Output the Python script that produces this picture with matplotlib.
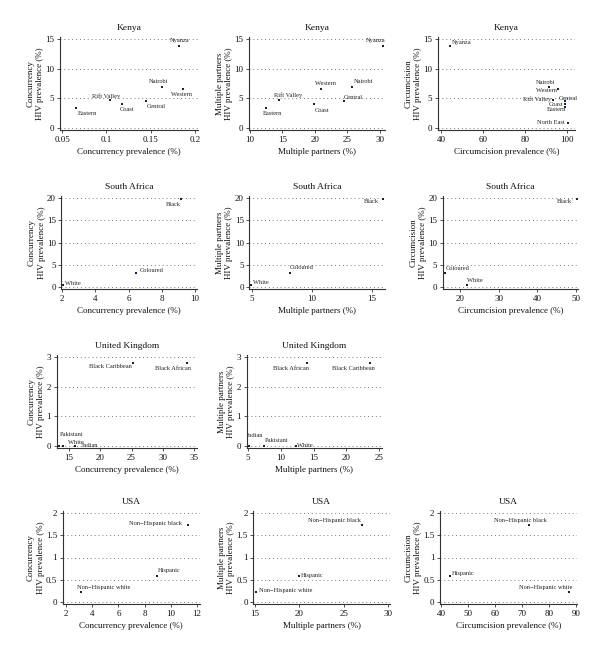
import matplotlib.pyplot as plt
from matplotlib.ticker import FuncFormatter

plt.rcParams['font.family'] = ['Liberation Serif', 'DejaVu Serif']

# ---- data ----
kenya_regions = ['Eastern', 'Rift Valley', 'Coast', 'Central', 'Nairobi', 'Western', 'Nyanza']
kenya_hiv = [3.4, 4.7, 4.1, 4.6, 6.9, 6.5, 13.8]
kenya_concurrency = [0.066, 0.104, 0.118, 0.145, 0.163, 0.187, 0.182]
kenya_multiple = [12.4, 14.5, 19.9, 24.4, 25.7, 20.9, 30.4]

kenya_circ_regions = ['Nyanza', 'Nairobi', 'Western', 'Rift Valley', 'Central', 'Coast', 'Eastern', 'North East']
kenya_circ_hiv = [13.8, 6.9, 6.5, 4.7, 4.6, 4.1, 3.5, 0.9]
kenya_circumcision = [44.1, 91.5, 95.9, 93.2, 99.2, 99.0, 99.0, 100.5]

sa_groups = ['Black', 'Coloured', 'White']
sa_hiv = [19.8, 3.1, 0.4]
sa_concurrency = [9.16, 6.48, 2.04]
sa_multiple = [15.94, 8.2, 4.94]
sa_circumcision = [50.2, 16.0, 21.7]

uk_groups = ['Black Caribbean', 'Black African', 'Pakistani', 'White', 'Indian']
uk_hiv = [2.8, 2.8, 0.0, 0.0, 0.0]
uk_concurrency = [25.2, 33.9, 13.45, 14.0, 16.0]
uk_multiple = [23.7, 13.96, 7.4, 12.4, 5.15]

usa_groups = ['Non\u2212Hispanic black', 'Hispanic', 'Non\u2212Hispanic white']
usa_hiv = [1.72, 0.58, 0.22]
usa_concurrency = [11.34, 8.91, 3.11]
usa_multiple = [27.06, 19.94, 15.1]
usa_circumcision = [72.7, 43.3, 87.5]

conc_x = 'Concurrency prevalence (%)'
conc_y = 'Concurrency\nHIV prevalence (%)'
mp_x = 'Multiple partners (%)'
mp_y = 'Multiple partners\nHIV prevalence (%)'
circ_x = 'Circumcision prevalence (%)'
circ_y = 'Circumcision\nHIV prevalence (%)'

# label offsets in points (dx, dy, ha), same order as the names
panels = [
    # title, box (left, right, top, bottom px), xlim, xticks, ytop, yticks, xlabel, ylabel, names, x, y, offsets
    ('Kenya', (60, 198, 37, 130), (0.0477, 0.2034), [0.05, 0.1, 0.15, 0.2], 15, [0, 5, 10, 15],
     conc_x, conc_y, kenya_regions, kenya_concurrency, kenya_hiv,
     [(1, -4.3, 'left'), (-2.4, 2.6, 'center'), (-2.2, -4.1, 'left'), (0.5, -4.3, 'left'),
      (-2.9, 4.3, 'center'), (-1.7, -3.8, 'center'), (0.7, 4.3, 'center')]),
    ('Kenya', (249, 385, 37, 130), (9.85, 30.77), [10, 15, 20, 25, 30], 15, [0, 5, 10, 15],
     mp_x, mp_y, kenya_regions, kenya_multiple, kenya_hiv,
     [(-1.7, -4.1, 'left'), (-3.8, 3.8, 'left'), (0, -4.6, 'left'), (0, 2.2, 'left'),
      (1.2, 4.1, 'left'), (3.1, 4.3, 'center'), (1.7, 4.3, 'right')]),
    ('Kenya', (438, 575, 37, 130), (38.6, 103.8), [40, 60, 80, 100], 15, [0, 5, 10, 15],
     circ_x, circ_y, kenya_circ_regions, kenya_circumcision, kenya_circ_hiv,
     [(1.9, 2.9, 'left'), (-2.4, 3.1, 'center'), (-0.7, -1.0, 'right'), (-1.4, 0.5, 'right'),
      (2.2, 1.9, 'center'), (-1.2, -0.7, 'right'), (1.2, -1.9, 'right'), (-2.4, 0, 'right')]),
    ('South Africa', (61.5, 197, 196, 289), (1.97, 10.12), [2, 4, 6, 8, 10], 20, [0, 5, 10, 15, 20],
     conc_x, conc_y, sa_groups, sa_concurrency, sa_hiv,
     [(0, -4.3, 'right'), (2.4, 1.7, 'left'), (1.7, 1.2, 'left')]),
    ('South Africa', (249.3, 385, 196, 289), (4.78, 16.08), [5, 10, 15], 20, [0, 5, 10, 15, 20],
     mp_x, mp_y, sa_groups, sa_multiple, sa_hiv,
     [(-3.4, -1.9, 'right'), (-0.5, 3.8, 'left'), (1.2, 2.2, 'left')]),
    ('South Africa', (442.7, 578, 196, 289), (15.53, 50.52), [20, 30, 40, 50], 20, [0, 5, 10, 15, 20],
     circ_x, circ_y, sa_groups, sa_circumcision, sa_hiv,
     [(-3.4, -1.9, 'right'), (0.7, 3.4, 'left'), (0, 3.1, 'left')]),
    ('United Kingdom', (56.7, 197, 355, 448), (13.03, 35.48), [15, 20, 25, 30, 35], 3, [0, 1, 2, 3],
     conc_x, conc_y, uk_groups, uk_concurrency, uk_hiv,
     [(-0.5, -2.6, 'right'), (3.1, -4.1, 'right'), (0, 8.6, 'left'), (4.1, 2.6, 'left'), (5, 0.5, 'left')]),
    ('United Kingdom', (246.7, 381.7, 355, 448), (4.8, 25.41), [5, 10, 15, 20, 25], 3, [0, 1, 2, 3],
     mp_x, mp_y, uk_groups, uk_multiple, uk_hiv,
     [(2.9, -3.8, 'right'), (1.4, -3.8, 'right'), (0.7, 3.8, 'left'), (0.7, 0.5, 'left'), (-1.4, 7.7, 'left')]),
    ('USA', (62.7, 200, 511, 604), (1.75, 12.23), [2, 4, 6, 8, 10, 12], 2, [0, 0.5, 1, 1.5, 2],
     conc_x, conc_y, usa_groups, usa_concurrency, usa_hiv,
     [(-5, 1.7, 'right'), (1.2, 4.1, 'left'), (-2.6, 3.4, 'left')]),
    ('USA', (253.3, 390, 511, 604), (14.81, 30.23), [15, 20, 25, 30], 2, [0, 0.5, 1, 1.5, 2],
     mp_x, mp_y, usa_groups, usa_multiple, usa_hiv,
     [(-0.7, 3.8, 'right'), (1.4, 0.7, 'left'), (1.9, 1.0, 'left')]),
    ('USA', (440, 576.7, 511, 604), (39.63, 90.26), [40, 50, 60, 70, 80, 90], 2, [0, 0.5, 1, 1.5, 2],
     circ_x, circ_y, usa_groups, usa_circumcision, usa_hiv,
     [(-6.2, 3.6, 'center'), (1.2, 2.2, 'left'), (2.4, 3.4, 'right')]),
]

W, H = 600, 654
fig = plt.figure(figsize=(W / 100, H / 100), dpi=100)

fmt = FuncFormatter(lambda v, p: ('%g' % v))
dot_color = '#15233f'
text_color = '#111111'

for (title, box, xlim, xticks, ytop, yticks, xlabel, ylabel,
     names, xs, ys, offsets) in panels:
    l, r, t, b = box
    ax = fig.add_axes([l / W, 1 - b / H, (r - l) / W, (b - t) / H])
    ax.scatter(xs, ys, s=4, marker='s', color=dot_color, zorder=3, linewidths=0)
    for name, x, y, (dx, dy, ha) in zip(names, xs, ys, offsets):
        ax.annotate(name, (x, y), xytext=(dx, dy), textcoords='offset points',
                    ha=ha, va='center', fontsize=4.6, color='#222222')
    ax.set_xlim(*xlim)
    pad = ytop * 0.0225
    ax.set_ylim(-pad, ytop + pad)
    ax.set_xticks(xticks)
    ax.set_yticks(yticks)
    ax.xaxis.set_major_formatter(fmt)
    ax.yaxis.set_major_formatter(fmt)
    ax.grid(axis='y', color='#7a7a7a', linestyle=(0, (1, 3)), linewidth=0.7)
    ax.set_axisbelow(True)
    for side in ('top', 'right'):
        ax.spines[side].set_visible(False)
    for side in ('left', 'bottom'):
        ax.spines[side].set_color('#333333')
        ax.spines[side].set_linewidth(0.8)
    ax.tick_params(labelsize=6.5, colors='#333333', labelcolor=text_color, length=2, width=0.6, pad=2)
    ax.set_title(title, fontsize=6.8, color=text_color, pad=5)
    ax.set_xlabel(xlabel, fontsize=6.5, color=text_color, labelpad=3)
    ax.set_ylabel(ylabel, fontsize=6.5, color=text_color, labelpad=1, linespacing=1.25)

fig.savefig('out.png', dpi=100, facecolor='white')
